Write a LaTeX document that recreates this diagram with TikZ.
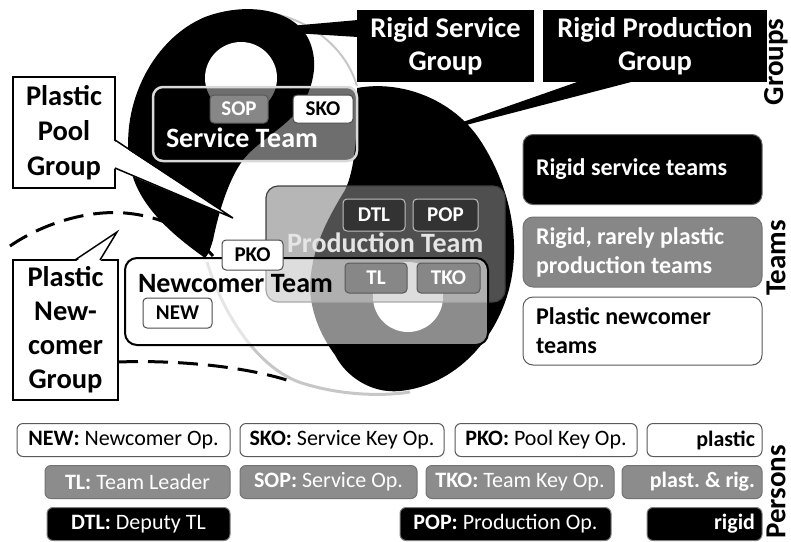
\documentclass[tikz,border=0pt]{standalone}
\usepackage{fontspec}
\setmainfont{Carlito}
\usetikzlibrary{calc}
\definecolor{midgray}{gray}{0.53}
\definecolor{pgray}{gray}{0.55}
\definecolor{darklbl}{gray}{0.2}
\definecolor{rimgray}{gray}{0.78}
\newcommand\teamfont{\fontsize{28}{28}\selectfont\bfseries}
\newcommand\lblfont{\fontsize{21}{21}\selectfont\bfseries}
\newcommand\callfont{\fontsize{28.5}{33}\selectfont\bfseries}
\newcommand\legfont{\fontsize{24}{29}\selectfont\bfseries}
\newcommand\perfont{\fontsize{22}{22}\selectfont}
\newcommand\axisfont{\fontsize{29}{29}\selectfont\bfseries}
\frenchspacing
\begin{document}
\begin{tikzpicture}[x=1pt,y=-1pt,
  every node/.style={inner sep=0pt,outer sep=0pt},
  lblbox/.style={font=\lblfont,rounded corners=4pt,line width=1pt,minimum height=30pt},
  lblwhite/.style={lblbox,fill=white,draw=black!70,text=black},
  lblgray/.style={lblbox,fill=midgray,draw=black!65,text=white},
  lbldark/.style={lblbox,fill=darklbl,draw=black!25,text=white},
  callblack/.style={fill=black,text=white,font=\callfont,align=center},
  callwhite/.style={fill=white,draw=black,line width=1.5pt,text=black,align=center},
  legbox/.style={rounded corners=10pt,line width=1pt,minimum width=239pt,minimum height=70pt,text width=213pt,inner xsep=13pt,align=flush left,font=\legfont},
  pbox/.style={rounded corners=6pt,line width=1pt,minimum height=33pt,font=\perfont},
  pwhite/.style={pbox,fill=white,draw=black!65,text=black},
  pgrey/.style={pbox,fill=pgray,draw=black!55,text=white},
  pblack/.style={pbox,fill=black,draw=black!50,text=white},
  axislbl/.style={font=\axisfont,rotate=90},
  dashline/.style={line width=3pt,dash pattern=on 20pt off 10pt}
]
\useasboundingbox (0,0) rectangle (791,541);

% ---- yin-yang background ----
\draw[rimgray,line width=2pt] (262,12) .. controls (305,16) and (345,45) .. (357,86);
\draw[rimgray,line width=3pt] (207,262) .. controls (225,320) and (262,372) .. (305,384)
  .. controls (345,396) and (385,396) .. (410,392);
% upper-left dark half
\fill[black] (205,258) .. controls (180,240) and (140,210) .. (131,170)
  .. controls (118,110) and (150,40) .. (205,17)
  .. controls (245,2) and (292,8) .. (308,38)
  .. controls (318,58) and (315,80) .. (305,100)
  .. controls (292,125) and (258,140) .. (243,160)
  .. controls (228,180) and (218,215) .. (213,240)
  .. controls (210,250) and (208,255) .. (205,258) -- cycle;
% lower-right dark half
\fill[black] (357,88) .. controls (400,80) and (452,98) .. (480,140)
  .. controls (505,178) and (518,225) .. (513,268)
  .. controls (506,330) and (460,385) .. (400,391)
  .. controls (370,394) and (345,375) .. (335,355)
  .. controls (320,335) and (310,310) .. (310,285)
  .. controls (312,245) and (330,215) .. (345,190)
  .. controls (355,170) and (358,130) .. (357,88) -- cycle;
\fill[white] (241,78) circle[radius=36];
\fill[white] (408,297) circle[radius=35];

% ---- newcomer group boundary ----
\draw[dashline] (10,246) .. controls (45,222) and (90,210) .. (125,213)
  .. controls (160,216) and (190,230) .. (213,256);
\draw[dashline] (118,362) .. controls (170,360) and (240,365) .. (290,381);

% ---- service team ----
\node[draw=white!85!black,line width=2.5pt,fill=black,fill opacity=0.57,rounded corners=10pt,
      minimum width=204pt,minimum height=74pt] (svc) at (255,124) {};
\node[lblgray,minimum width=58pt,minimum height=28pt] (sop) at (239,109) {SOP};
\node[lblwhite,minimum width=60pt,minimum height=28pt] (sko) at (323,109) {SKO};
\node[anchor=base west,text=white,font=\teamfont] (svct) at (166,147) {Service Team};

% ---- production team ----
\node[draw=black!75,line width=1.2pt,fill=black!48,fill opacity=0.6,rounded corners=12pt,
      minimum width=239pt,minimum height=116pt] (prod) at (385.5,244) {};
\node[lbldark,minimum width=62pt,minimum height=32pt] (dtl) at (374,215) {DTL};
\node[lbldark,minimum width=65pt,minimum height=32pt] (pop) at (445.5,215) {POP};
\node[anchor=base west,text=white!90!black,font=\teamfont] (prodt) at (287,252) {Production Team};

% ---- newcomer team ----
\node[draw=black,line width=2pt,fill=white,fill opacity=0.55,rounded corners=12pt,
      minimum width=363pt,minimum height=87pt] (newc) at (306.5,301.5) {};
\node[anchor=base west,text=black,font=\teamfont] (newct) at (138,292) {Newcomer Team};
\node[lblwhite,minimum width=69pt] (new) at (177.5,313) {NEW};
\node[lblgray,minimum width=62pt] (tl) at (376,278) {TL};
\node[lblgray,minimum width=63pt] (tko) at (448.5,278) {TKO};
\node[lblwhite,minimum width=61pt] (pko) at (252.5,255) {PKO};

% ---- group callouts ----
\node[callblack,minimum width=177pt,minimum height=72pt] (rsg) at (445.5,46) {Rigid Service\\Group};
\coordinate (rsgtip) at (245,30);
\fill[black] ($(rsg.north west)+(1,10)$) -- (rsgtip) -- ($(rsg.north west)+(1,27)$) -- cycle;

\node[callblack,minimum width=224pt,minimum height=72pt] (rpg) at (655,46) {Rigid Production\\Group};
\coordinate (rpgtip) at (420,137);
\fill[black] ($(rpg.south west)+(37,-1)$) -- (rpgtip) -- ($(rpg.south west)+(92,-1)$) -- cycle;

\node[callwhite,minimum width=102pt,minimum height=111pt,font=\fontsize{28.5}{35}\selectfont\bfseries] (ppg) at (64,132.5) {Plastic\\Pool\\Group};
\coordinate (ppgtip) at (233,218);
\fill[white] ($(ppg.north east)+(-2,63)$) -- (ppgtip) -- ($(ppg.north east)+(-2,91)$) -- cycle;
\draw[line width=1.5pt] ($(ppg.north east)+(0,63)$) -- (ppgtip) -- ($(ppg.north east)+(0,91)$);

\node[callwhite,minimum width=105pt,minimum height=140pt,font=\fontsize{28.5}{34}\selectfont\bfseries] (png) at (65.5,330) {Plastic\\New-\\comer\\Group};
\coordinate (pngtip) at (117,232);
\fill[white] ($(png.north west)+(62,2)$) -- (pngtip) -- ($(png.north west)+(87,2)$) -- cycle;
\draw[line width=1.5pt] ($(png.north west)+(62,0)$) -- (pngtip) -- ($(png.north west)+(87,0)$);

% ---- team legend ----
\node[legbox,fill=black,draw=black!60,text=white] (lt1) at (642.5,169.5) {Rigid service teams};
\node[legbox,fill=midgray,draw=black!55,text=white] (lt2) at (642.5,252) {Rigid, rarely plastic\\production teams};
\node[legbox,fill=white,draw=black!65,text=black,minimum height=68pt] (lt3) at (642.5,331) {Plastic newcomer\\teams};

% ---- person legend ----
\node[pwhite,minimum width=213pt] (pnew) at (123.5,440) {\textbf{NEW:} Newcomer Op.};
\node[pwhite,minimum width=204pt] (psko) at (342,440) {\textbf{SKO:} Service Key Op.};
\node[pwhite,minimum width=182pt] (ppko) at (546,440) {\textbf{PKO:} Pool Key Op.};
\node[pwhite,text width=101pt,inner xsep=7pt,align=flush right] (pplas) at (704.5,440) {\textbf{plastic}};
\node[pgrey,minimum width=185pt] (ptl) at (137.5,482) {\textbf{TL:} Team Leader};
\node[pgrey,minimum width=177pt] (psop) at (328.5,482) {\textbf{SOP:} Service Op.};
\node[pgrey,minimum width=188pt] (ptko) at (520,482) {\textbf{TKO:} Team Key Op.};
\node[pgrey,text width=126pt,inner xsep=7pt,align=flush right] (pboth) at (692,482) {\textbf{plast. \& rig.}};
\node[pblack,minimum width=183pt] (pdtl) at (138.5,524) {\textbf{DTL:} Deputy TL};
\node[pblack,minimum width=211pt] (ppop) at (505.5,524) {\textbf{POP:} Production Op.};
\node[pblack,text width=101pt,inner xsep=7pt,align=flush right] (prig) at (704.5,524) {\textbf{rigid}};

% ---- level labels ----
\node[axislbl] (lgroups) at (776,62) {Groups};
\node[axislbl] (lteams) at (776,258) {Teams};
\node[axislbl] (lpersons) at (776,492) {Persons};
\end{tikzpicture}
\end{document}
